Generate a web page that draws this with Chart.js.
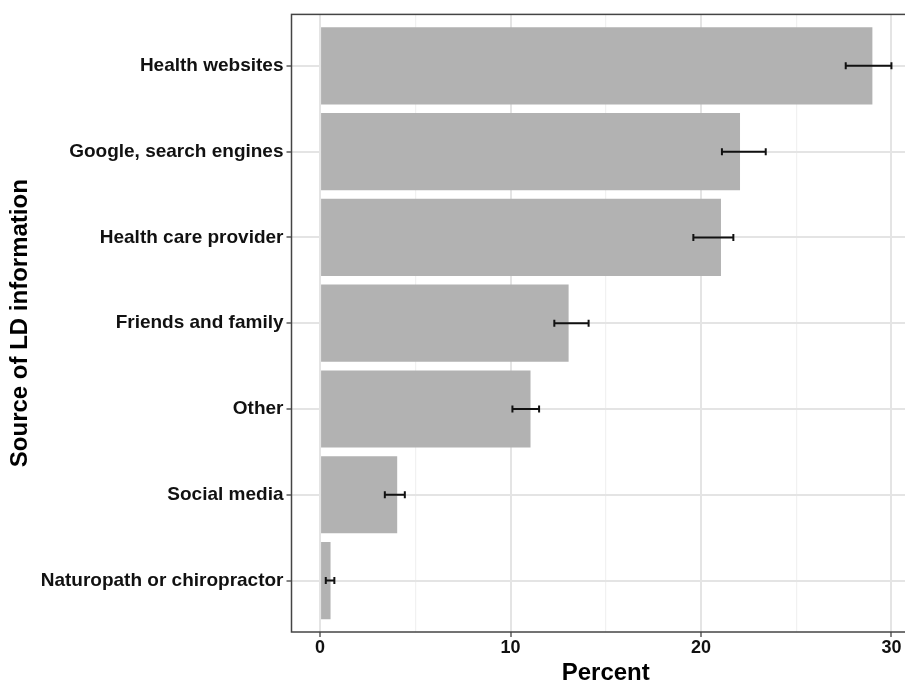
<!DOCTYPE html>
<html>
<head>
<meta charset="utf-8">
<script src="https://cdn.jsdelivr.net/npm/chart.js@4"></script>
<style>
    html, body { margin: 0; padding: 0; background: #fff; overflow: hidden; }
    canvas { display: block; }
</style>
</head>
<body>
<canvas id="sourceChart" width="920" height="682"></canvas>
<script>
// top to bottom, as in the figure
const sources = ['Health websites', 'Google, search engines', 'Health care provider',
    'Friends and family', 'Other', 'Social media', 'Naturopath or chiropractor'];
const percent = [29.0, 22.05, 21.05, 13.05, 11.05, 4.05, 0.55];
const lowerCI = [27.6, 21.1, 19.6, 12.3, 10.1, 3.4, 0.3];
const upperCI = [30.0, 23.4, 21.7, 14.1, 11.5, 4.45, 0.75];
const percentTicks = [0, 5, 10, 15, 20, 25, 30];

const positions = sources.map((s, i) => i + 1);

const errorBars = {
    id: 'errorBars',
    afterDatasetsDraw(chart) {
        const c = chart.ctx;
        const xs = chart.scales.x, ys = chart.scales.y;
        c.save();
        c.strokeStyle = '#111';
        c.lineWidth = 2;
        positions.forEach(function (pos, i) {
            const y = ys.getPixelForValue(pos);
            const x1 = xs.getPixelForValue(lowerCI[i]);
            const x2 = xs.getPixelForValue(upperCI[i]);
            c.beginPath();
            c.moveTo(x1, y); c.lineTo(x2, y);
            c.moveTo(x1, y - 3.5); c.lineTo(x1, y + 3.5);
            c.moveTo(x2, y - 3.5); c.lineTo(x2, y + 3.5);
            c.stroke();
        });
        c.restore();
    }
};

const panelBorder = {
    id: 'panelBorder',
    afterDraw(chart) {
        const a = chart.chartArea;
        const c = chart.ctx;
        c.save();
        c.strokeStyle = '#444';
        c.lineWidth = 1.5;
        c.strokeRect(a.left, a.top, a.right - a.left, a.bottom - a.top);
        c.restore();
    }
};

const ctx = document.getElementById('sourceChart').getContext('2d');

new Chart(ctx, {
    type: 'bar',
    data: {
        datasets: [{
            data: positions.map((p, i) => ({ x: percent[i], y: p })),
            backgroundColor: '#b2b2b2',
            borderWidth: 0,
            barPercentage: 0.9,
            categoryPercentage: 1.0
        }]
    },
    options: {
        indexAxis: 'y',
        responsive: false,
        animation: false,
        layout: { padding: { top: 13, right: 0, left: 0, bottom: 0 } },
        plugins: { legend: { display: false }, tooltip: { enabled: false } },
        scales: {
            x: {
                type: 'linear',
                min: -1.5,
                max: 31.5,
                afterBuildTicks: function (scale) {
                    scale.ticks = percentTicks.map(v => ({ value: v }));
                },
                afterFit: function (scale) { scale.height = 50; },
                grid: {
                    color: c => (c.tick && c.tick.value % 10 === 0) ? '#e4e4e4' : '#f1f1f1',
                    lineWidth: c => (c.tick && c.tick.value % 10 === 0) ? 2 : 1.2,
                    tickColor: c => (c.tick && c.tick.value % 10 === 0) ? '#333' : 'rgba(0,0,0,0)',
                    tickLength: 5,
                    tickWidth: 1.2
                },
                border: { display: false },
                ticks: {
                    autoSkip: false,
                    maxRotation: 0,
                    padding: 0,
                    color: '#111',
                    font: { family: 'Liberation Sans', size: 18, weight: 'bold' },
                    callback: v => (v % 10 === 0 ? String(v) : '')
                },
                title: {
                    display: true,
                    text: 'Percent',
                    color: '#000',
                    padding: 0,
                    font: { family: 'Liberation Sans', size: 24, weight: 'bold', lineHeight: 0.75 }
                }
            },
            y: {
                type: 'linear',
                min: 0.4,
                max: 7.6,
                reverse: true,
                offset: false,
                afterBuildTicks: function (scale) {
                    scale.ticks = positions.map(v => ({ value: v }));
                },
                afterFit: function (scale) { scale.width = 291.5; },
                grid: {
                    offset: false,
                    color: '#e4e4e4',
                    lineWidth: 2,
                    tickColor: '#333',
                    tickLength: 5,
                    tickWidth: 1.2
                },
                border: { display: false },
                ticks: {
                    autoSkip: false,
                    padding: 3,
                    color: '#111',
                    font: { family: 'Liberation Sans', size: 19, weight: 'bold' },
                    callback: v => sources[v - 1]
                },
                title: {
                    display: true,
                    text: 'Source of LD information',
                    color: '#000',
                    padding: { top: 6, bottom: 0 },
                    font: { family: 'Liberation Sans', size: 24, weight: 'bold' }
                }
            }
        }
    },
    plugins: [errorBars, panelBorder]
});
</script>
</body>
</html>
